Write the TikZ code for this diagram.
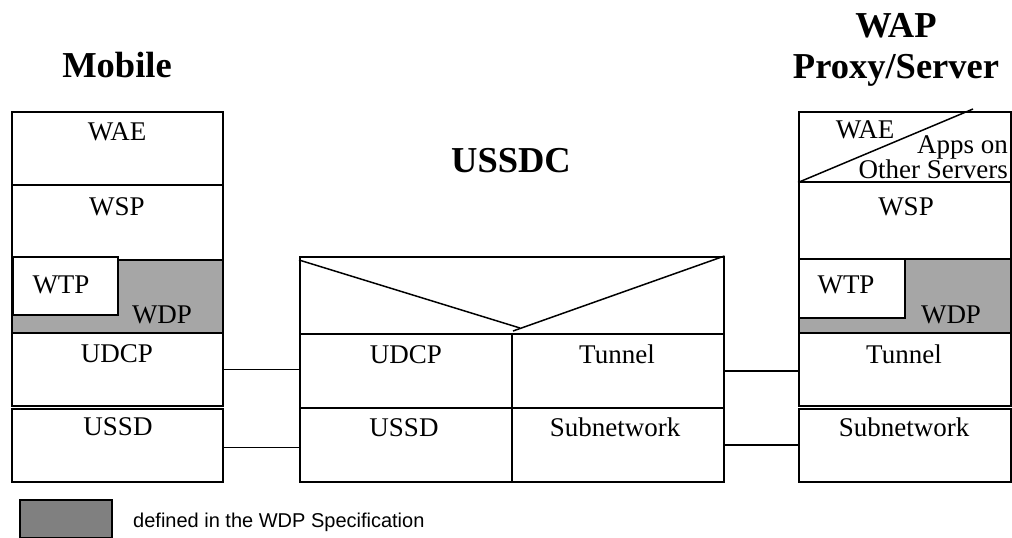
\documentclass[tikz,border=0pt]{standalone}
\usepackage{fontspec}
\setmainfont{Liberation Serif}
\newfontfamily\legendfont{Liberation Sans}
\begin{document}
\begin{tikzpicture}[x=1pt,y=-1pt]
\useasboundingbox (0,0) rectangle (1012,538);

\tikzstyle{layer} = [draw, shape=rectangle, line width=1.5pt, inner sep=0pt, anchor=north west]
\tikzstyle{wdp} = [layer, fill=black!35]
\tikzstyle{lbl} = [inner sep=0pt, anchor=base, font=\fontsize{27}{29}\selectfont]
\tikzstyle{ttl} = [inner sep=0pt, anchor=base, font=\fontsize{36.5}{38}\selectfont\bfseries]
\tikzstyle{link} = [line width=1.5pt]

% titles
\node at (117,77)[ttl](tmob){Mobile};
\node at (511,172)[ttl](tussdc){USSDC};
\node at (896,37)[ttl](twap){WAP};
\node at (896,78)[ttl](tproxy){Proxy/Server};

% Mobile stack
\node at (11,111)[layer, minimum width=211, minimum height=73](mwae){};
\node at (11,184)[layer, minimum width=211, minimum height=75](mwsp){};
\node at (11,259)[wdp, minimum width=211, minimum height=73](mwdp){};
\node at (12,256)[layer, fill=white, minimum width=105, minimum height=58](mwtp){};
\node at (11,332)[layer, minimum width=211, minimum height=73](mudcp){};
\node at (11,408)[layer, minimum width=211, minimum height=73](mussd){};

\node at (117,140)[lbl](lmwae){WAE};
\node at (117,215)[lbl](lmwsp){WSP};
\node at (61,293)[lbl](lmwtp){WTP};
\node at (162,323)[lbl](lmwdp){WDP};
\node at (117,362)[lbl](lmudcp){UDCP};
\node at (118,435)[lbl](lmussd){USSD};

% USSDC
\node at (299,256)[layer, minimum width=424, minimum height=77](ctop){};
\node at (299,333)[layer, minimum width=212, minimum height=74](cudcp){};
\node at (511,333)[layer, minimum width=212, minimum height=74](ctun){};
\node at (299,407)[layer, minimum width=212, minimum height=74](cussd){};
\node at (511,407)[layer, minimum width=212, minimum height=74](csub){};
\coordinate (vl) at (520,328);
\coordinate (vr) at (513,331);
\draw[link] ([yshift=-4]ctop.north west) -- (vl);
\draw[link] (vr) -- (ctop.north east);

\node at (406,363)[lbl](lcudcp){UDCP};
\node at (617,363)[lbl](lctun){Tunnel};
\node at (404,436)[lbl](lcussd){USSD};
\node at (615,436)[lbl](lcsub){Subnetwork};

% WAP Proxy/Server stack
\node at (798,111)[layer, minimum width=212, minimum height=70](swae){};
\node at (798,181)[layer, minimum width=212, minimum height=77](swsp){};
\node at (798,258)[wdp, minimum width=212, minimum height=74](swdp){};
\node at (798,258)[layer, fill=white, minimum width=106, minimum height=59](swtp){};
\node at (798,332)[layer, minimum width=212, minimum height=73](stun){};
\node at (798,408)[layer, minimum width=212, minimum height=73](ssub){};
\coordinate (sdiag) at (973,109);
\draw[link] (swae.south west) -- (sdiag);

\node at (865,138)[lbl](lswae){WAE};
\node at (1008,153)[lbl, anchor=base east](lsapps){Apps on};
\node at (1008,178)[lbl, anchor=base east](lsother){Other Servers};
\node at (906,215)[lbl](lswsp){WSP};
\node at (846,293)[lbl](lswtp){WTP};
\node at (951,323)[lbl](lswdp){WDP};
\node at (904,363)[lbl](lstun){Tunnel};
\node at (904,436)[lbl](lssub){Subnetwork};

% links
\draw[link] (mudcp.east) -- (mudcp.east -| cudcp.west);
\draw[link] ([yshift=-2]mussd.east) -- ([yshift=-2]mussd.east -| cussd.west);
\draw[link] (ctun.east) -- (ctun.east -| stun.west);
\draw[link] (csub.east) -- (csub.east -| ssub.west);

% legend
\node at (19,499)[layer, fill=black!50, minimum width=92, minimum height=38](key){};
\node at (133,527)[inner sep=0pt, anchor=base west, font=\legendfont\fontsize{20}{22}\selectfont](keytxt){defined in the WDP Specification};

\end{tikzpicture}
\end{document}
